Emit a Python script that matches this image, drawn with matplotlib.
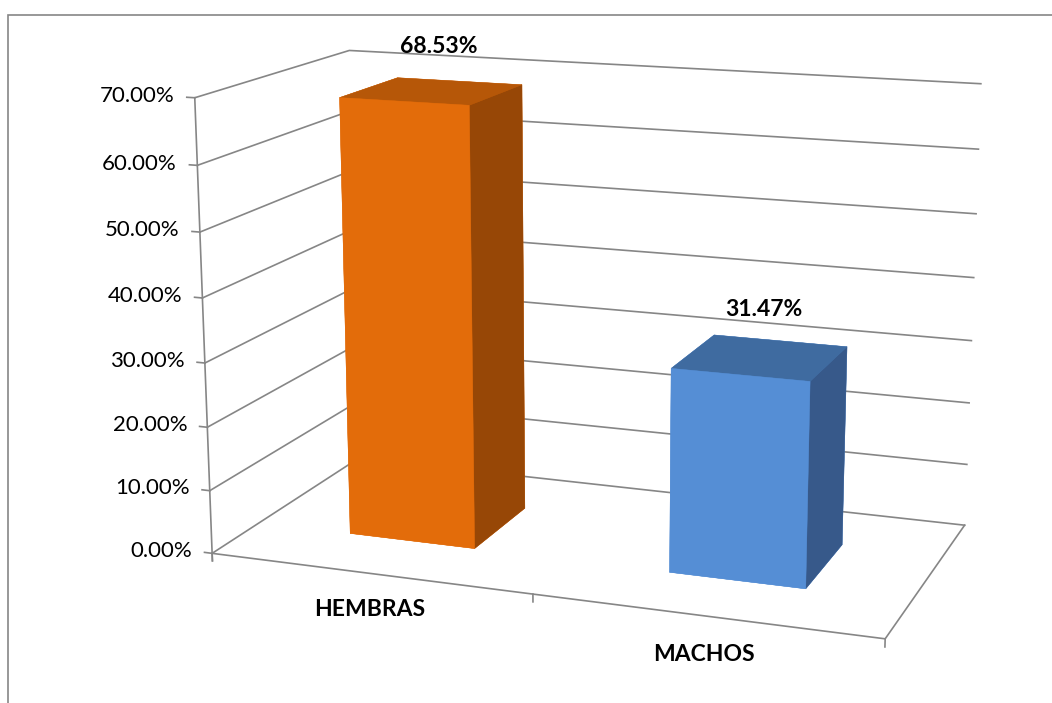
import numpy as np
import matplotlib
matplotlib.use('Agg')
import matplotlib.pyplot as plt
from matplotlib.patches import Rectangle

plt.rcParams['font.family'] = ['Lato', 'DejaVu Sans']

# datos del grafico
categorias = ['HEMBRAS', 'MACHOS']
valores = [0.6853, 0.3147]
etiquetas = ['68.53%', '31.47%']
ticks_z = [0.0, 0.1, 0.2, 0.3, 0.4, 0.5, 0.6, 0.7]
caras_hembras = ['#E36C0A', '#B65708', '#E36C0A', '#E36C0A', '#E36C0A', '#974706']
caras_machos = ['#558ED5', '#3F6BA0', '#558ED5', '#558ED5', '#558ED5', '#37598A']

gris = '#868686'
ancho = 0.4   # gap width 150%
prof = 0.4

fig = plt.figure(figsize=(10.52, 7.03), dpi=100)
# borde del area del grafico
fig.patches.append(Rectangle((8 / 1052, -0.1), 1.2, (703 - 15) / 703 + 0.1,
                             transform=fig.transFigure, fill=False,
                             edgecolor=gris, lw=1.2))

ax = fig.add_axes([0.553 - 0.45, 0.527 - 0.675, 0.9, 1.35], projection='3d')
ax.set_proj_type('persp', focal_length=0.5)
ax.view_init(elev=14, azim=-70)
ax.set_box_aspect((2.18, 1.09, 1.455), zoom=0.924)
ax.set_xlim(0, 2, view_margin=0)
ax.set_ylim(0, 1, view_margin=0)
ax.set_zlim(0, 0.7, view_margin=0)
ax.set_axis_off()
ax.computed_zorder = False

# lineas de division en pared lateral y pared del fondo
for z in ticks_z:
    ax.plot([0, 0, 2], [0, 1, 1], [z, z, z], color=gris, lw=1.2, zorder=1)
    ax.plot([0, -0.025], [0, 0], [z, z], color=gris, lw=1.2, zorder=1)
    ax.text(-0.065, 0, z, '%.2f%%' % (z * 100), ha='right', va='center',
            fontsize=16, zorder=3)

# ejes
ax.plot([0, 0], [0, 0], [-0.012, 0.7], color=gris, lw=1.2, zorder=1)
ax.plot([0, 2, 2], [0, 0, 1], [0, 0, 0], color=gris, lw=1.2, zorder=1)
for xt in range(len(categorias) + 1):
    ax.plot([xt, xt], [0, 0], [0, -0.012], color=gris, lw=1.2, zorder=1)

# barras
colores = [caras_hembras, caras_machos]
for i, v in enumerate(valores):
    ax.bar3d(i + 0.5 - ancho / 2, 0.5 - prof / 2, 0, ancho, prof, v,
             color=colores[i], edgecolor=colores[i], lw=0.3, shade=False,
             zorder=2)
    ax.text(i + 0.48, 0.6, v + 0.06, etiquetas[i], ha='center',
            va='center', fontsize=16.5, fontweight='bold', zorder=3)
    ax.text(i + 0.5, 0, -0.058, categorias[i], ha='center', va='center',
            fontsize=16.5, fontweight='bold', zorder=3)

fig.savefig('out.png', dpi=100)
